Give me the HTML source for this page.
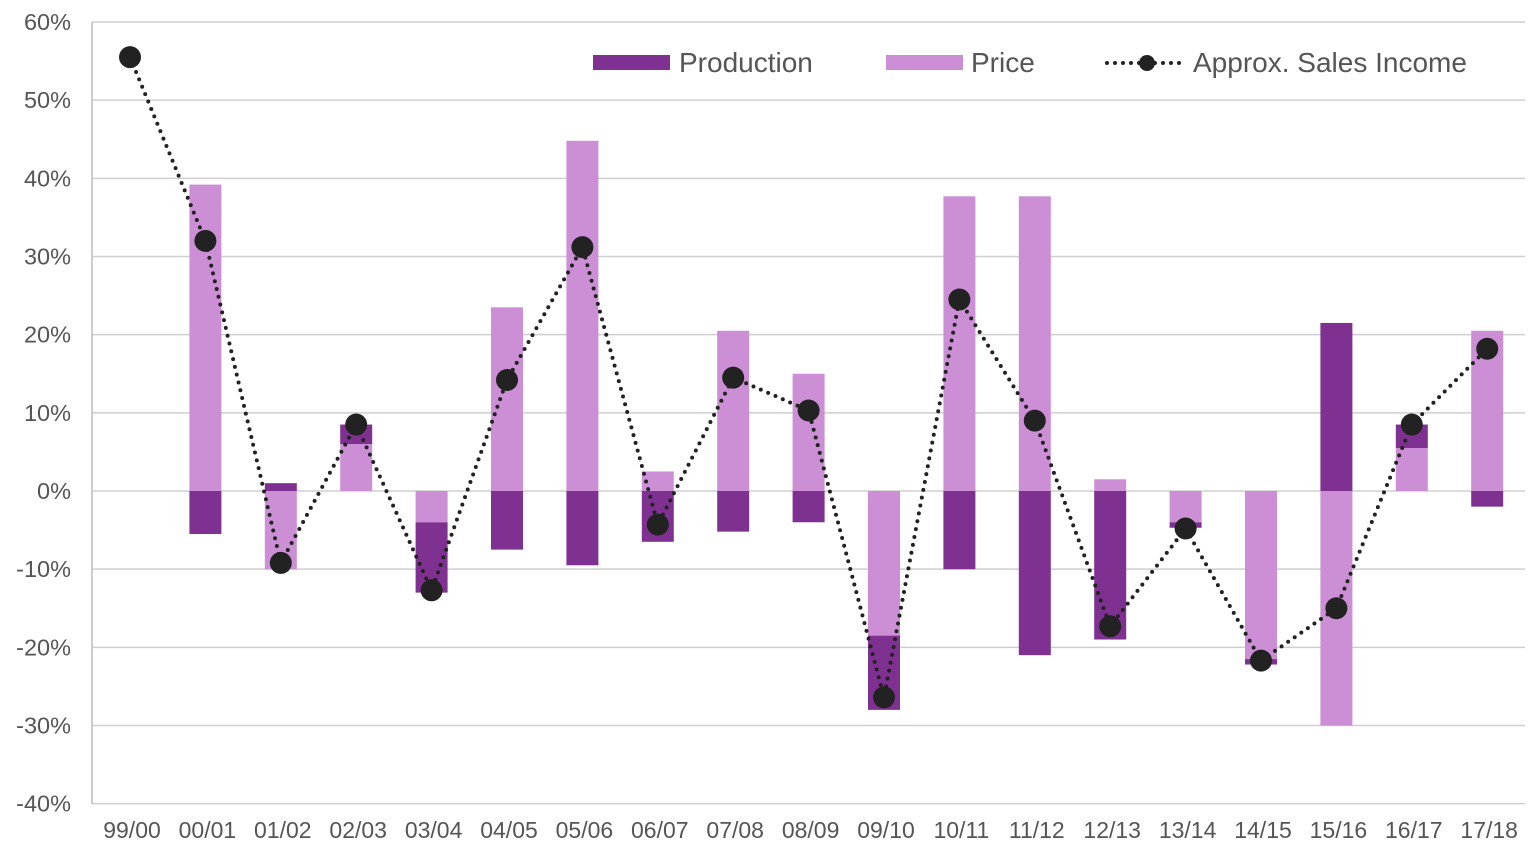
<!DOCTYPE html>
<html><head><meta charset="utf-8"><style>
html,body{margin:0;padding:0;background:#fff;}
svg{display:block;font-family:"Liberation Sans",Arial,sans-serif;}
</style></head><body>
<svg id="chart" width="1535" height="850" viewBox="0 0 1535 850"></svg>
<script>
const categories=["99/00","00/01","01/02","02/03","03/04","04/05","05/06","06/07","07/08","08/09","09/10","10/11","11/12","12/13","13/14","14/15","15/16","16/17","17/18"];
const production=[0,-5.5,1,2.5,-9,-7.5,-9.5,-6.5,-5.2,-4,-9.5,-10,-21,-19,-0.7,-0.7,21.5,3,-2];
const price=[0,39.2,-10,6,-4,23.5,44.8,2.5,20.5,15,-18.5,37.7,37.7,1.5,-4,-21.5,-30,5.5,20.5];
const salesIncome=[55.5,32,-9.2,8.5,-12.7,14.2,31.2,-4.3,14.5,10.3,-26.4,24.5,9,-17.3,-4.8,-21.7,-15,8.5,18.2];
const yTicks=[60,50,40,30,20,10,0,-10,-20,-30,-40];

const NS="http://www.w3.org/2000/svg";
const svg=document.getElementById('chart');
const y=v=>491-v*7.817;
const x=i=>130+i*75.4;
const bw=32;
function mk(t,a){const e=document.createElementNS(NS,t);for(const k in a)e.setAttribute(k,a[k]);svg.appendChild(e);return e;}

yTicks.forEach(t=>{
  const g=mk('line',{x1:92,x2:1525,y1:y(t),y2:y(t),stroke:'#cfcfcf','stroke-width':1.5});
  
  
  const l=mk('text',{x:71,y:y(t)+8,'text-anchor':'end','font-size':23.5,fill:'#555'});
  l.textContent=t+'%';
  
  
});
const ax=mk('line',{x1:92,x2:92,y1:22,y2:804,stroke:'#bbb','stroke-width':1.5});



categories.forEach((c,i)=>{
  const l=mk('text',{x:x(i)+2,y:838,'text-anchor':'middle','font-size':23,fill:'#555'});
  l.textContent=c;
  
  
  let pos=0,neg=0;
  [[price[i],'#cc8fd6','price-bar'],[production[i],'#7f3191','production-bar']].forEach(([v,col,n])=>{
    if(!v)return;
    let a,b;
    if(v>0){a=pos;b=pos+v;pos=b;}else{a=neg;b=neg+v;neg=b;}
    const top=y(Math.max(a,b)),bot=y(Math.min(a,b));
    const r=mk('rect',{x:x(i)-bw/2,y:top,width:bw,height:bot-top,fill:col});
    
    
  });
});

const pts=salesIncome.map((v,i)=>x(i)+','+y(v)).join(' ');
const pl=mk('polyline',{points:pts,fill:'none',stroke:'#222','stroke-width':4,'stroke-dasharray':'0 8','stroke-linecap':'round'});


salesIncome.forEach((v,i)=>{
  const c=mk('circle',{cx:x(i),cy:y(v),r:11,fill:'#222'});
  
  
});

// legend
const l1=mk('rect',{x:593,y:55,width:77,height:15,fill:'#7f3191'});


const t1=mk('text',{x:679,y:72,'font-size':28,fill:'#555'});t1.textContent='Production';


const l2=mk('rect',{x:886,y:55,width:77,height:15,fill:'#cc8fd6'});


const t2=mk('text',{x:971,y:72,'font-size':28,fill:'#555'});t2.textContent='Price';


const l3=mk('line',{x1:1107,x2:1180,y1:63,y2:63,stroke:'#222','stroke-width':4,'stroke-dasharray':'0 8','stroke-linecap':'round'});


const l3c=mk('circle',{cx:1147,cy:63,r:8,fill:'#222'});


const t3=mk('text',{x:1193,y:72,'font-size':28,fill:'#555'});t3.textContent='Approx. Sales Income';


</script>
</body></html>
